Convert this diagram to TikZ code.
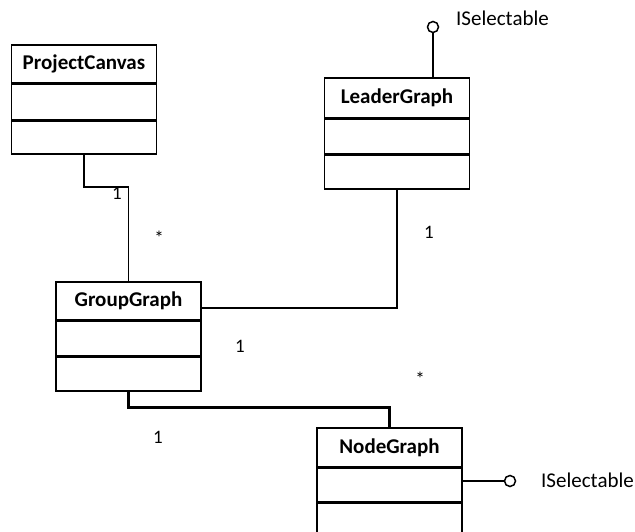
\documentclass[tikz,border=0pt]{standalone}
\usepackage{fontspec}
\setmainfont{Carlito}
\usetikzlibrary{calc,positioning}
\begin{document}
\begin{tikzpicture}[x=1pt,y=-1pt,
  classhead/.style={draw,line width=1.6pt,minimum width=145pt,inner sep=0pt,anchor=north,
    font=\fontsize{21}{24}\selectfont\bfseries},
  classcell/.style={draw,line width=1.6pt,minimum width=145pt,inner sep=0pt,anchor=north},
  link/.style={line width=1.5pt},
  boldlink/.style={line width=2.8pt},
  mult/.style={font=\fontsize{19}{22}\selectfont,inner sep=0pt},
  iface/.style={font=\fontsize{21}{24}\selectfont,inner sep=0pt,anchor=west},
  lolly/.style={draw,line width=1.5pt,circle,fill=white,inner sep=0pt,minimum size=11pt}
]
\clip (0,0) rectangle (635,532);
\fill[white] (0,0) rectangle (635,532);

% ProjectCanvas
\node[classhead,minimum height=38pt] (pc) at (84,44) {ProjectCanvas};
\node[classcell,minimum height=35pt] (pc2) at (pc.south) {};
\node[classcell,minimum height=33pt] (pc3) at (pc2.south) {};

% LeaderGraph
\node[classhead,minimum height=40pt] (lg) at (397,77) {LeaderGraph};
\node[classcell,minimum height=34pt] (lg2) at (lg.south) {};
\node[classcell,minimum height=34pt] (lg3) at (lg2.south) {};

% GroupGraph
\node[classhead,minimum height=38pt] (gg) at (128.5,281) {GroupGraph};
\node[classcell,minimum height=34pt] (gg2) at (gg.south) {};
\node[classcell,minimum height=34pt] (gg3) at (gg2.south) {};

% NodeGraph
\node[classhead,minimum height=39pt] (ng) at (389.5,427) {NodeGraph};
\node[classcell,minimum height=33pt] (ng2) at (ng.south) {};
\node[classcell,minimum height=60pt] (ng3) at (ng2.south) {};

% associations
\coordinate (bendA) at (0,187);
\draw[link] (pc3.south) |- (bendA -| gg.north) -- (gg.north);
\draw[link] ($(gg.east)+(0,7)$) -| (lg3.south);
\draw[boldlink] (gg3.south) -- ++(0,16) -| (ng.north);

% provided interfaces
\node[lolly] (lgi) at (433,27) {};
\draw[link] (lgi.south) -- (lgi.south |- lg.north);
\node[iface] (lgil) at (456,18) {ISelectable};

\node[lolly] (ngi) at (510,481) {};
\draw[link] (ng2.east |- ngi) -- (ngi.west);
\node[iface] (ngil) at (541,480) {ISelectable};

% multiplicities
\node[mult] (m1) at (117,193) {1};
\node[mult] (m2) at (159,238) {*};
\node[mult] (m3) at (429,232) {1};
\node[mult] (m4) at (240,346) {1};
\node[mult] (m5) at (420,379) {*};
\node[mult] (m6) at (158,437) {1};
\end{tikzpicture}
\end{document}
